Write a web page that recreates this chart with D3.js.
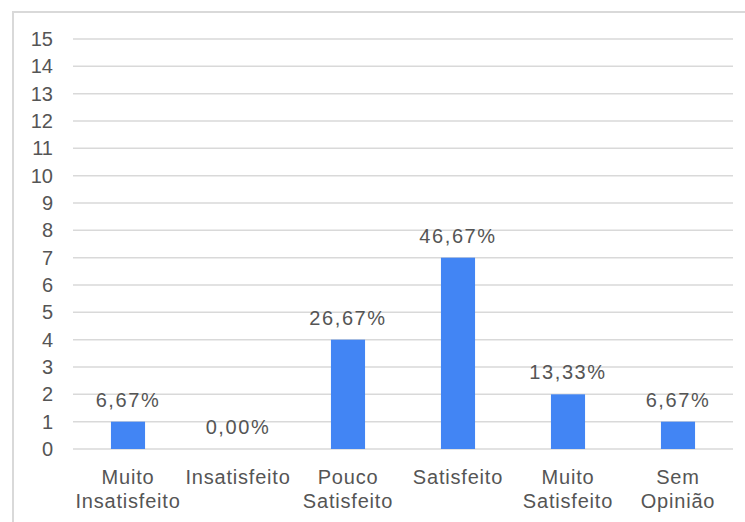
<!DOCTYPE html>
<html><head><meta charset="utf-8">
<script src="https://cdn.jsdelivr.net/npm/d3@7"></script>
<style>body{margin:0;background:#fff;} text{font-family:"Liberation Sans", Arial, sans-serif;}</style>
</head><body>
<svg id="c" width="745" height="522"></svg>
<script>
const categories = [["Muito","Insatisfeito"],["Insatisfeito"],["Pouco","Satisfeito"],["Satisfeito"],["Muito","Satisfeito"],["Sem","Opinião"]];
const values = [1, 0, 4, 7, 2, 1];
const labels = ["6,67%","0,00%","26,67%","46,67%","13,33%","6,67%"];
const yTicks = [0,1,2,3,4,5,6,7,8,9,10,11,12,13,14,15];

const svg = d3.select("#c");
svg.append("rect").attr("x",13).attr("y",12).attr("width",760).attr("height",540)
  .attr("fill","#fff").attr("stroke","#d9d9d9").attr("stroke-width",2);

const x = d3.scaleBand().domain(d3.range(categories.length)).range([73,733]).paddingInner(0.69).paddingOuter(0.345);
const y = d3.scaleLinear().domain([0,15]).range([449,39]);
const col = "#555";

svg.append("g").selectAll("line").data(yTicks).join("line")
  .attr("x1",73).attr("x2",733).attr("y1",d=>y(d)).attr("y2",d=>y(d))
  .attr("stroke","#d9d9d9").attr("stroke-width",1.5);

svg.append("g").selectAll("text").data(yTicks).join("text")
  .attr("x",53).attr("y",d=>y(d)+7).attr("text-anchor","end")
  .attr("font-size",20).attr("fill",col).text(d=>d);

svg.append("g").selectAll("rect").data(values).join("rect")
  .attr("x",(d,i)=>x(i)).attr("width",x.bandwidth())
  .attr("y",d=>y(d)).attr("height",d=>y(0)-y(d)).attr("fill","#4285f4");

svg.append("g").selectAll("text").data(values).join("text")
  .attr("x",(d,i)=>x(i)+x.bandwidth()/2).attr("y",d=>y(d)-15)
  .attr("text-anchor","middle").attr("font-size",20).attr("letter-spacing",1.6).attr("fill",col)
  .text((d,i)=>labels[i]);

const xl = svg.append("g").selectAll("text").data(categories).join("text")
  .attr("x",(d,i)=>x(i)+x.bandwidth()/2).attr("y",484)
  .attr("text-anchor","middle").attr("font-size",20).attr("letter-spacing",0.8).attr("fill",col);
xl.selectAll("tspan").data(d=>d).join("tspan")
  .attr("x",function(){return this.parentNode.getAttribute("x");})
  .attr("dy",(d,j)=>j===0?0:24).text(d=>d);
</script>
</body></html>
